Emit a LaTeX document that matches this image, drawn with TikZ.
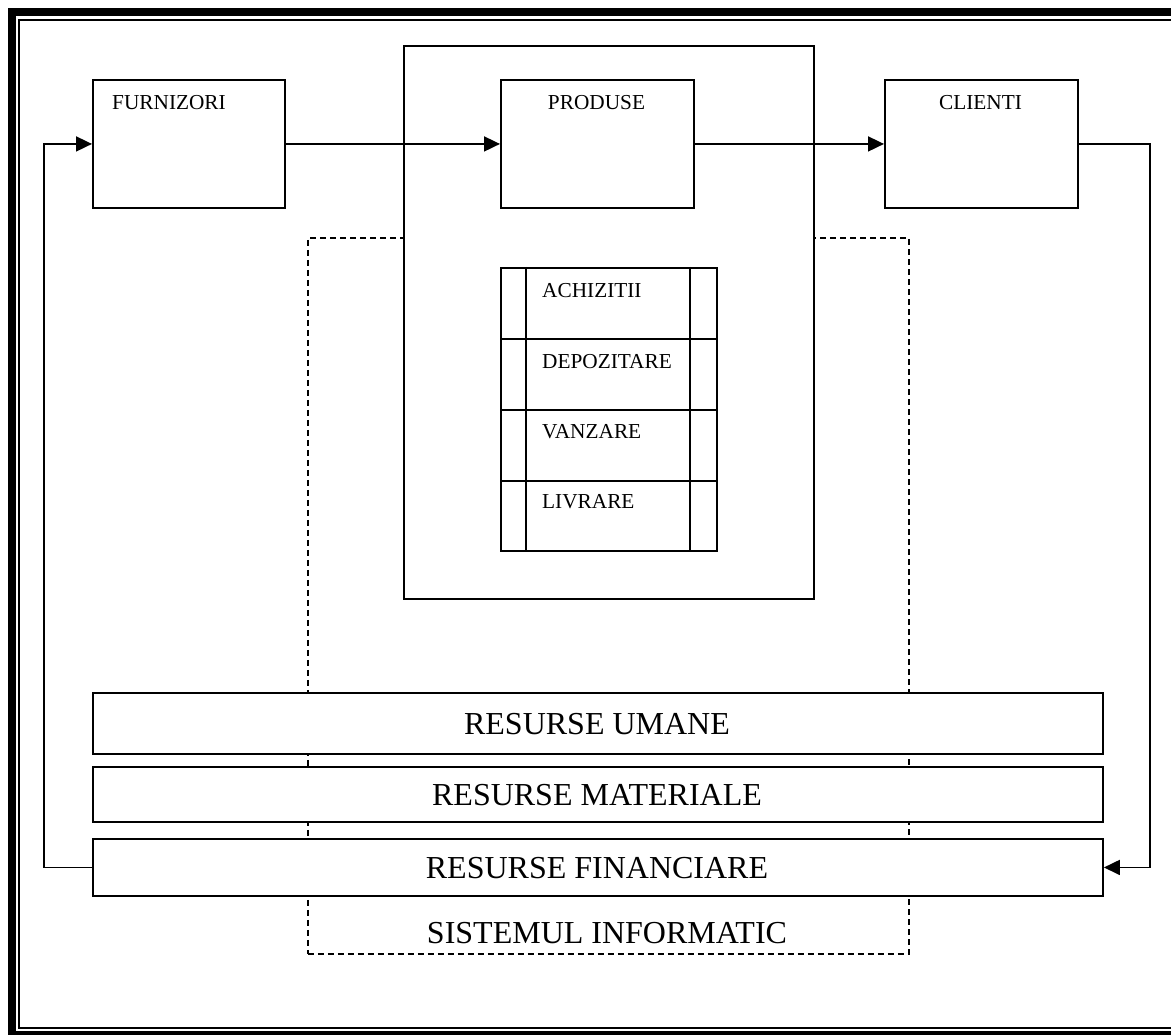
\documentclass[tikz,border=0pt]{standalone}
\usepackage{fontspec}
\setmainfont{Liberation Serif}
\usetikzlibrary{arrows.meta}
\begin{document}
\begin{tikzpicture}[x=1pt,y=-1pt,
  box/.style={draw, line width=1.9pt, fill=white, inner sep=0pt, anchor=north west},
  cell/.style={draw, line width=1.9pt, inner sep=0pt, anchor=north west,
    minimum width=216pt, minimum height=71pt},
  small/.style={font=\fontsize{21.3}{25}\selectfont, inner sep=0pt},
  big/.style={font=\fontsize{32}{38}\selectfont, inner sep=0pt, anchor=base},
  flow/.style={line width=1.8pt, -{Triangle[length=16pt,width=15pt]}},
  sisline/.style={draw, line width=1.7pt, dash pattern=on 6pt off 4pt,
    inner sep=0pt, anchor=north west}
]
\useasboundingbox (0,0) rectangle (1171,1035);
\clip (0,0) rectangle (1171,1035);

% page frame: thick outer rule, thin inner rule
\draw[line width=8pt] (12,12.5) rectangle (1300,1035);
\draw[line width=2pt] (19,20) rectangle (1290,1028);

% information system (dashed, behind everything)
\node[sisline, minimum width=601pt, minimum height=716pt] (sis) at (307,237) {};
\node[big] (sist) at (607,943) {SISTEMUL INFORMATIC};

% products area
\node[box, minimum width=410pt, minimum height=553pt] (area) at (403,45) {};

% activities table
\node[cell] (r1) at (500,267) {};
\node[cell] (r2) at (500,338) {};
\node[cell] (r3) at (500,409) {};
\node[cell, minimum height=70pt] (r4) at (500,480) {};
\draw[line width=1.9pt] (526,267) -- (526,550);
\draw[line width=1.9pt] (690,267) -- (690,550);
\node[small, anchor=base west] (t1) at (542,298) {ACHIZITII};
\node[small, anchor=base west] (t2) at (542,368) {DEPOZITARE};
\node[small, anchor=base west] (t3) at (542,438) {VANZARE};
\node[small, anchor=base west] (t4) at (542,508) {LIVRARE};

% flow boxes
\node[box, minimum width=192pt, minimum height=128pt] (furn) at (92,79) {};
\node[box, minimum width=193pt, minimum height=128pt] (prod) at (500,79) {};
\node[box, minimum width=193pt, minimum height=128pt] (clie) at (884,79) {};
\node[small, anchor=base west] (furnt) at (112,110) {FURNIZORI};
\node[small, anchor=base] (prodt) at (596.5,110) {PRODUSE};
\node[small, anchor=base] (cliet) at (980.5,110) {CLIENTI};

% resources
\node[box, minimum width=1010pt, minimum height=61pt] (uman) at (92,692) {};
\node[box, minimum width=1010pt, minimum height=55pt] (mat) at (92,766) {};
\node[box, minimum width=1010pt, minimum height=57pt] (fin) at (92,838) {};
\node[big] (umant) at (597,734) {RESURSE UMANE};
\node[big] (matt) at (597,805) {RESURSE MATERIALE};
\node[big] (fint) at (597,878) {RESURSE FINANCIARE};

% connectors
\draw[flow] (furn.east) -- (prod.west);
\draw[flow] (prod.east) -- (clie.west);
\draw[flow] (clie.east) -- ++(71,0) |- (fin.east);
\draw[flow] (fin.west) -- ++(-48,0) |- (furn.west);
\end{tikzpicture}
\end{document}
